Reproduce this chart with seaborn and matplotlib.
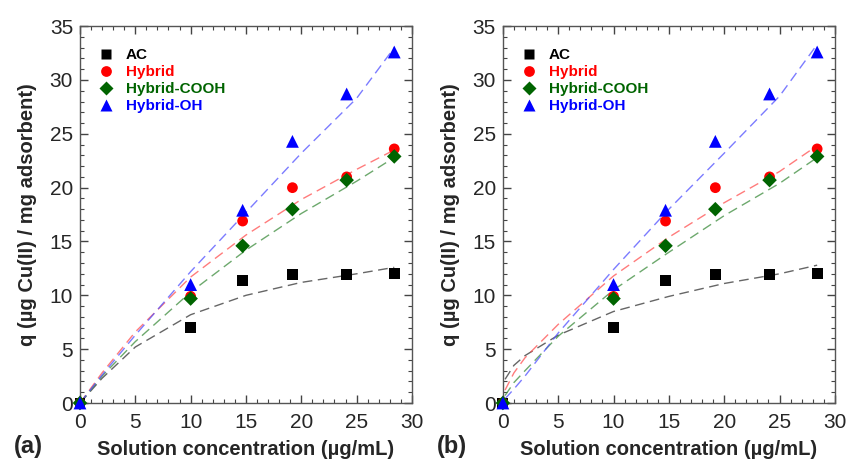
import numpy as np
import pandas as pd
import matplotlib
matplotlib.use("Agg")
import matplotlib.pyplot as plt
import seaborn as sns
from matplotlib.ticker import MultipleLocator

# ---- data ----
series = ["AC", "Hybrid", "Hybrid-COOH", "Hybrid-OH"]
conc = [0, 10.0, 14.7, 19.2, 24.1, 28.4]
q_ac = [0, 7.0, 11.4, 11.9, 11.9, 12.0]
q_hybrid = [0, 9.9, 16.9, 20.0, 21.0, 23.6]
q_cooh = [0, 9.7, 14.6, 18.0, 20.7, 22.9]
q_oh = [0, 11.0, 17.9, 24.3, 28.7, 32.6]

# fit curves
fit_a_x = [0, 2, 5, 10, 15, 20, 25, 28.4]
fit_a_ac = [0, 2.3, 5.2, 8.2, 10.0, 11.2, 12.0, 12.6]
fit_a_hybrid = [0, 2.8, 6.6, 11.7, 15.6, 18.9, 21.7, 23.5]
fit_a_cooh = [0, 2.5, 5.7, 10.3, 14.2, 17.6, 20.6, 22.8]
fit_a_oh = [0, 2.6, 6.3, 12.2, 17.7, 23.2, 28.3, 33.0]

# fit curves
fit_b_x = [0.2, 1, 2, 5, 10, 15, 20, 25, 28.4]
fit_b_ac = [2.2, 3.5, 4.4, 6.3, 8.5, 9.9, 11.1, 12.0, 12.8]
fit_b_hybrid = [1.2, 2.8, 4.2, 7.3, 11.8, 15.4, 18.6, 21.5, 23.9]
fit_b_cooh = [0.7, 1.9, 3.0, 6.2, 10.5, 14.0, 17.4, 20.4, 22.8]
fit_b_oh = [0.4, 1.3, 2.5, 6.5, 12.4, 18.0, 23.2, 28.5, 33.3]

colors = {"AC": "#000000", "Hybrid": "#ff0000", "Hybrid-COOH": "#006400", "Hybrid-OH": "#0000ff"}
line_colors = {"AC": "#333333", "Hybrid": "#ff5050", "Hybrid-COOH": "#3c8c3c", "Hybrid-OH": "#5050ff"}
markers = {"AC": "s", "Hybrid": "o", "Hybrid-COOH": "D", "Hybrid-OH": "^"}
sizes = {"AC": 60, "Hybrid": 60, "Hybrid-COOH": 55, "Hybrid-OH": 85}

pts = pd.DataFrame({
    "x": conc * 4,
    "q": q_ac + q_hybrid + q_cooh + q_oh,
    "s": sum([[s] * len(conc) for s in series], []),
})

def fit_df(xs, ys_list):
    return pd.DataFrame({
        "x": xs * 4,
        "q": sum(ys_list, []),
        "s": sum([[s] * len(xs) for s in series], []),
    })

fit_a = fit_df(fit_a_x, [fit_a_ac, fit_a_hybrid, fit_a_cooh, fit_a_oh])
fit_b = fit_df(fit_b_x, [fit_b_ac, fit_b_hybrid, fit_b_cooh, fit_b_oh])

sns.set_style("ticks")
plt.rcParams["font.family"] = ["Liberation Sans", "DejaVu Sans"]

fig = plt.figure(figsize=(8.48, 4.59), dpi=100)
ax_a = fig.add_axes([0.0943, 0.122, 0.3915, 0.821])
ax_b = fig.add_axes([0.593, 0.122, 0.3915, 0.821])

for ax, fit, lab in [(ax_a, fit_a, "(a)"), (ax_b, fit_b, "(b)")]:
    for s in series:
        d = fit[fit.s == s]
        sns.lineplot(data=d, x="x", y="q", ax=ax, color=line_colors[s], lw=1.0,
                     alpha=0.75, sort=False, estimator=None)
        ax.lines[-1].set_dashes([7, 4])
    sns.scatterplot(data=pts, x="x", y="q", hue="s", style="s", size="s",
                    sizes=sizes, palette=colors, markers=markers,
                    edgecolor="none", ax=ax, clip_on=False, zorder=5, legend="full")
    ax.set_xlim(0, 30)
    ax.set_ylim(0, 35)
    ax.xaxis.set_major_locator(MultipleLocator(5))
    ax.yaxis.set_major_locator(MultipleLocator(5))
    ax.xaxis.set_minor_locator(MultipleLocator(1))
    ax.yaxis.set_minor_locator(MultipleLocator(1))
    ax.tick_params(which="both", direction="in", top=True, right=True, labelsize=15,
                   color="#444444")
    ax.tick_params(axis="x", pad=7)
    ax.tick_params(axis="y", pad=5)
    ax.tick_params(which="major", length=6, width=1)
    ax.tick_params(which="minor", length=3, width=0.8)
    for sp in ax.spines.values():
        sp.set_color("#555555")
        sp.set_linewidth(1.0)
    ax.set_xlabel("Solution concentration (µg/mL)", fontsize=14.5, fontweight="bold", labelpad=6)
    ax.set_ylabel("q (µg Cu(II) / mg adsorbent)", fontsize=14.5, fontweight="bold", labelpad=9)
    handles, labels = ax.get_legend_handles_labels()
    leg = ax.legend(handles=handles[-4:], labels=labels[-4:], loc="upper left",
                    bbox_to_anchor=(0.0, 0.97), frameon=False, fontsize=11,
                    handletextpad=0.3, labelspacing=0.2, borderaxespad=0.3)
    for t, s in zip(leg.get_texts(), series):
        t.set_color(colors[s])
        t.set_fontweight("bold")
    ax.text(-0.2, -0.115, lab, transform=ax.transAxes, fontsize=17,
            fontweight="bold", ha="left", va="center")

fig.savefig("out.png", dpi=100)
